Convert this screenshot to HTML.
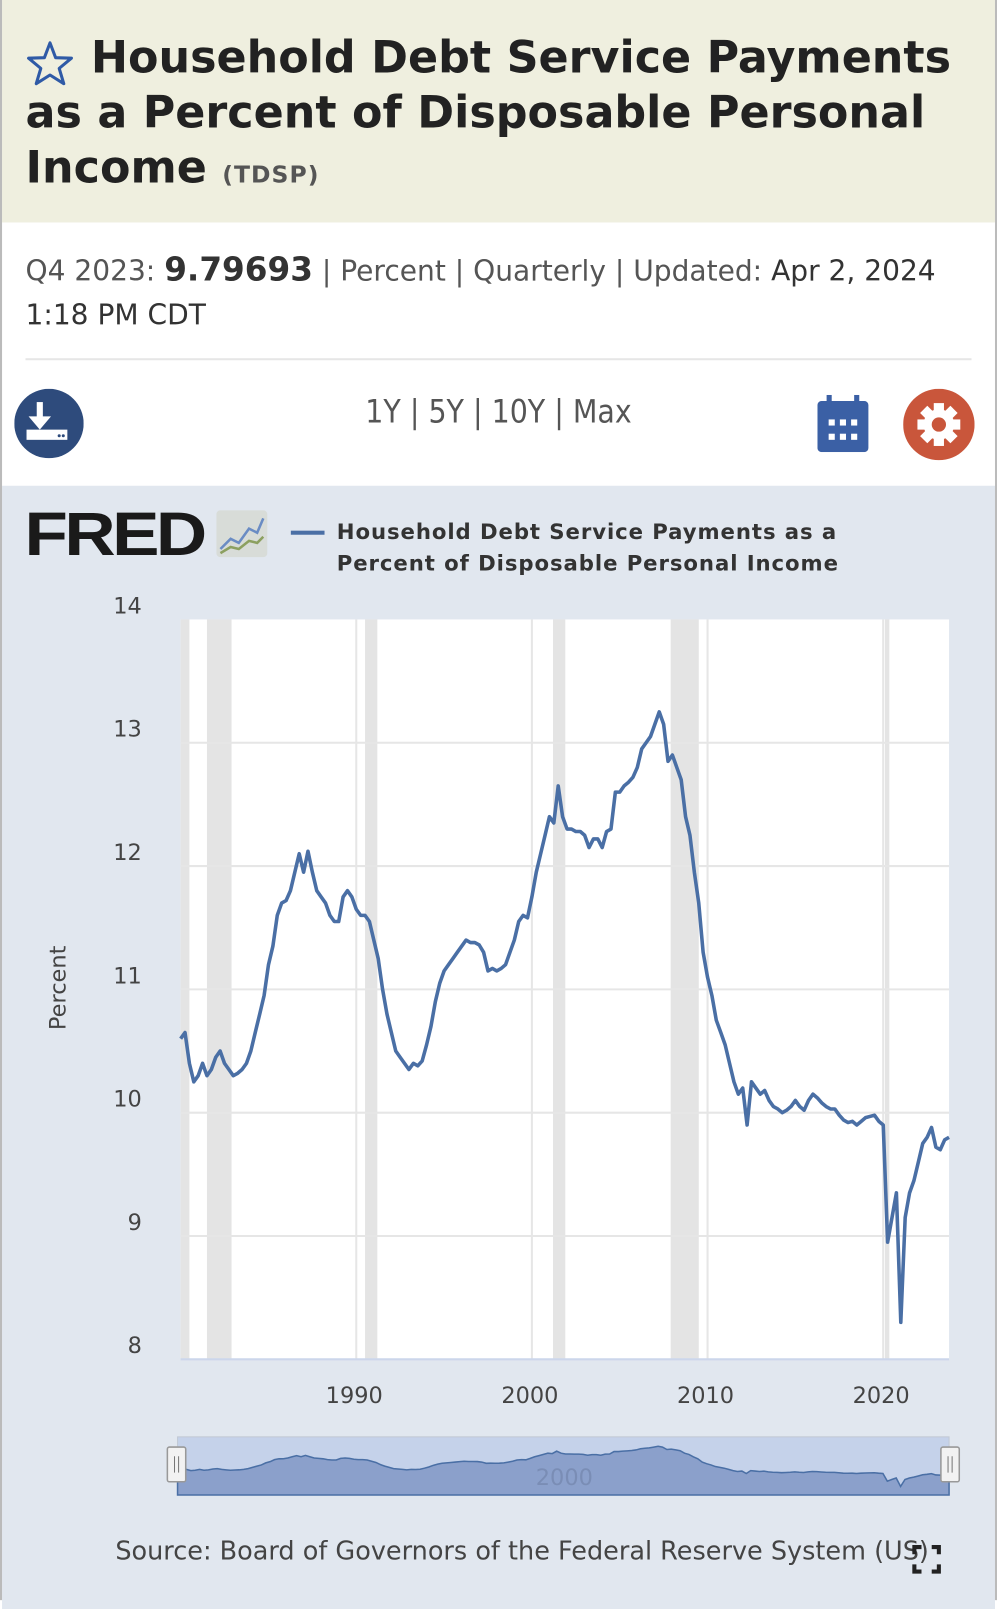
<!DOCTYPE html>
<html><head><meta charset="utf-8">
<style>
*{margin:0;padding:0;box-sizing:border-box}
html,body{width:997px;height:1600px;overflow:hidden;background:#fff}
#wrap{position:absolute;left:0;top:0;width:977px;height:1568px;transform:scale(1.0205);transform-origin:0 0;font-family:"DejaVu Sans","Liberation Sans",sans-serif}
.abs{position:absolute}
#frame{left:0;top:0;width:977px;height:1568px;border-left:2px solid #bbb;border-right:2px solid #bbb}
#header{left:2px;top:0;width:973px;height:218px;background:#efefdf}
#title{left:25px;top:30px;width:945px;font-weight:bold;font-size:43.5px;line-height:54px;color:#222}
#title .code{font-size:23px;color:#555;letter-spacing:1px}
#info{left:25px;top:243px;font-size:27.5px;line-height:43px;color:#555;width:950px;white-space:nowrap}
#info b{color:#333;font-size:32px}
#sep{left:25px;top:351px;width:927px;height:2px;background:#e6e6e6}
#ranges{left:0;width:977px;top:386px;text-align:center;font-size:31px;color:#555;font-family:"DejaVu Sans Condensed","DejaVu Sans",sans-serif}
#chartbg{left:2px;top:476px;width:973px;height:1101px;background:#e1e7ef}
#legend-text{left:330px;top:506px;font-size:20.8px;line-height:31px;color:#333;font-weight:bold;letter-spacing:0.9px}
#source{left:113px;top:1505px;font-size:25px;color:#444}
</style></head><body>
<div id="wrap">
<div class="abs" id="header"></div>
<svg class="abs" style="left:25px;top:39px" width="48" height="46" viewBox="0 0 48 46"><polygon points="24,3 29.5,17.5 45,18 33,28 37.5,43 24,34.5 10.5,43 15,28 3,18 18.5,17.5" fill="none" stroke="#2f5aa6" stroke-width="3" stroke-linejoin="round"/></svg>
<div class="abs" id="title"><span style="padding-left:64px"></span>Household Debt Service Payments as a Percent of Disposable Personal Income <span class="code">(TDSP)</span></div>
<div class="abs" id="info">Q4 2023: <b>9.79693</b> | Percent | Quarterly | Updated: <span style="color:#333">Apr 2, 2024<br>1:18 PM CDT</span></div>
<div class="abs" id="sep"></div>
<svg class="abs" style="left:14px;top:381px" width="68" height="68"><circle cx="34" cy="34" r="34" fill="#2e4b7c"/><rect x="22" y="13" width="6" height="16" fill="#fff"/><polygon points="14,27 36,27 25,40" fill="#fff"/><rect x="12" y="40" width="40" height="10" fill="#fff"/><circle cx="44" cy="46" r="1.5" fill="#2e4b7c"/><circle cx="48" cy="46" r="1.5" fill="#2e4b7c"/></svg>
<div class="abs" id="ranges">1Y | 5Y | 10Y | Max</div>
<svg class="abs" style="left:801px;top:387px" width="50" height="56"><rect x="0" y="6" width="50" height="50" rx="4" fill="#3b60a5"/><rect x="9" y="0" width="5" height="12" fill="#3b60a5"/><rect x="36" y="0" width="5" height="12" fill="#3b60a5"/><g fill="#fff"><rect x="11" y="24" width="6" height="6"/><rect x="22" y="24" width="6" height="6"/><rect x="33" y="24" width="6" height="6"/><rect x="11" y="38" width="6" height="6"/><rect x="22" y="38" width="6" height="6"/><rect x="33" y="38" width="6" height="6"/></g></svg>
<svg class="abs" style="left:885px;top:381px" width="70" height="70"><circle cx="35" cy="35" r="35" fill="#c9563b"/><g fill="#fff" transform="translate(35,35)"><circle r="15"/><rect x="-5" y="-21" width="10" height="42"/><rect x="-5" y="-21" width="10" height="42" transform="rotate(45)"/><rect x="-5" y="-21" width="10" height="42" transform="rotate(90)"/><rect x="-5" y="-21" width="10" height="42" transform="rotate(135)"/></g><circle cx="35" cy="35" r="7" fill="#c9563b"/></svg>
<div class="abs" id="chartbg"></div>
<div class="abs" style="left:24px;top:494px;font-size:60px;font-weight:bold;color:#1a1a1a;letter-spacing:-3px;line-height:60px;font-family:'Liberation Sans',sans-serif;transform:scaleX(1.16);transform-origin:0 0">FRED</div>
<svg class="abs" style="left:212px;top:500px" width="50" height="46"><rect width="50" height="46" rx="4" fill="#d8dcd8"/><polyline points="4,38 14,28 22,32 32,18 40,22 46,8" fill="none" stroke="#6a8cc4" stroke-width="2.5"/><polyline points="4,42 14,36 22,38 32,30 40,32 46,26" fill="none" stroke="#8ca060" stroke-width="2.5"/></svg>
<div class="abs" style="left:285px;top:520px;width:33px;height:4px;background:#4a6fa5"></div>
<div class="abs" id="legend-text">Household Debt Service Payments as a<br>Percent of Disposable Personal Income</div>
<svg class="abs" id="chart" style="left:0;top:0" width="977" height="1568"></svg>
<div class="abs" id="source">Source: Board of Governors of the Federal Reserve System (US)</div>
<svg class="abs" style="left:893px;top:1513px" width="30" height="30"><path d="M3 10V3h7M20 3h7v7M27 20v7h-7M10 27H3v-7" fill="none" stroke="#222" stroke-width="4"/></svg>
<div class="abs" id="frame" style="pointer-events:none"></div>
</div>
<script>
const startYear = 1980;
const values = [
10.6,10.65,10.4,10.25, 10.3,10.4,10.3,10.35, 10.45,10.5,10.4,10.35, 10.3,10.32,10.35,10.4,
10.5,10.65,10.8,10.95, 11.2,11.35,11.6,11.7, 11.72,11.8,11.95,12.1, 11.95,12.12,11.95,11.8,
11.75,11.7,11.6,11.55, 11.55,11.75,11.8,11.75, 11.65,11.6,11.6,11.55, 11.4,11.25,11.0,10.8,
10.65,10.5,10.45,10.4, 10.35,10.4,10.38,10.42, 10.55,10.7,10.9,11.05, 11.15,11.2,11.25,11.3,
11.35,11.4,11.38,11.38, 11.36,11.3,11.15,11.17, 11.15,11.17,11.2,11.3, 11.4,11.55,11.6,11.58,
11.75,11.95,12.1,12.25, 12.4,12.35,12.65,12.4, 12.3,12.3,12.28,12.28, 12.25,12.15,12.22,12.22,
12.15,12.28,12.3,12.6, 12.6,12.65,12.68,12.72, 12.8,12.95,13.0,13.05, 13.15,13.25,13.15,12.85,
12.9,12.8,12.7,12.4, 12.25,11.95,11.7,11.3, 11.1,10.95,10.75,10.65, 10.55,10.4,10.25,10.15,
10.2,9.9,10.25,10.2, 10.15,10.18,10.1,10.05, 10.03,10.0,10.02,10.05, 10.1,10.05,10.02,10.1,
10.15,10.12,10.08,10.05, 10.03,10.03,9.98,9.94, 9.92,9.93,9.9,9.93, 9.96,9.97,9.98,9.93,
9.9,8.95,9.15,9.35, 8.3,9.15,9.35,9.45, 9.6,9.75,9.8,9.88, 9.72,9.7,9.78,9.8
];
const recessionStarts = [1980.0, 1981.5, 1990.5, 2001.2, 2007.9, 2020.1];
const recessionEnds = [1980.5, 1982.9, 1991.2, 2001.9, 2009.5, 2020.35];
const yTicks = [8,9,10,11,12,13,14];
const xTicks = [1990,2000,2010,2020];

const NS='http://www.w3.org/2000/svg';
const svg=document.getElementById('chart');
const L=177,R=930,T=607,B=1332;
const xMin=1980,xMax=2023.75,yMin=8,yMax=14;
const x=t=>L+(t-xMin)/(xMax-xMin)*(R-L);
const y=v=>B-(v-yMin)/(yMax-yMin)*(B-T);
function mk(tag,attrs){const e=document.createElementNS(NS,tag);for(const k in attrs)e.setAttribute(k,attrs[k]);svg.appendChild(e);return e;}
let e=mk('rect',{x:L,y:T,width:R-L,height:B-T,fill:'#fff'});


recessionStarts.forEach((s,i)=>{
  const r=mk('rect',{x:x(s),y:T,width:Math.max(3,x(recessionEnds[i])-x(s)),height:B-T,fill:'#e4e4e4'});
  
  
});
yTicks.forEach(v=>{
  if(v>yMin&&v<yMax){const g=mk('line',{x1:L,x2:R,y1:y(v),y2:y(v),stroke:'#e6e6e6','stroke-width':2});
  
  }
  const t=mk('text',{x:139,y:y(v)-6,'text-anchor':'end','font-size':22,fill:'#444','font-family':'DejaVu Sans, sans-serif'});
  t.textContent=v;
  
  
});
xTicks.forEach(v=>{
  const g=mk('line',{x1:x(v),x2:x(v),y1:T,y2:B,stroke:'#e6e6e6','stroke-width':2});
  
  
  const t=mk('text',{x:x(v)-2,y:1375,'text-anchor':'middle','font-size':22,fill:'#444','font-family':'DejaVu Sans, sans-serif'});
  t.textContent=v;
  
  
});
const bl=mk('line',{x1:L,x2:R,y1:B,y2:B,stroke:'#ccd6eb','stroke-width':2});


const yt=mk('text',{x:0,y:0,transform:'translate(64,968) rotate(-90)','text-anchor':'middle','font-size':22,fill:'#444','font-family':'DejaVu Sans, sans-serif'});
yt.textContent='Percent';


const pts=values.map((v,i)=>x(startYear+i/4).toFixed(1)+','+y(v).toFixed(1)).join(' ');
const line=mk('polyline',{points:pts,fill:'none',stroke:'#4a6fa5','stroke-width':3.5,'stroke-linejoin':'round'});


const NL=174,NR=930,NT=1408,NB=1465;
const nx=t=>NL+(t-xMin)/(xMax-xMin)*(NR-NL);
const ny=v=>NB-6-(v-8)/(13.4-8)*(NB-NT-14);
const nb=mk('rect',{x:NL,y:NT,width:NR-NL,height:NB-NT,fill:'#c5d2ea',stroke:'#c0c8d4'});


const np=values.map((v,i)=>nx(startYear+i/4).toFixed(1)+','+ny(v).toFixed(1));
const area=mk('polygon',{points:NL+','+NB+' '+np.join(' ')+' '+NR+','+NB,fill:'#8ba0cb',stroke:'#4a6fa5','stroke-width':1.5});


const nt=mk('text',{x:553,y:1455,'text-anchor':'middle','font-size':22,fill:'#7a8db5','font-family':'DejaVu Sans, sans-serif'});
nt.textContent='2000';


[NL-10,NR-8].forEach(hx=>{
  const h=mk('rect',{x:hx,y:1418,width:18,height:34,fill:'#f2f2f2',stroke:'#999','stroke-width':1.5,rx:2});
  
  
  mk('line',{x1:hx+7,x2:hx+7,y1:1427,y2:1443,stroke:'#777'});
  mk('line',{x1:hx+11,x2:hx+11,y1:1427,y2:1443,stroke:'#777'});
});
</script>
</body></html>
